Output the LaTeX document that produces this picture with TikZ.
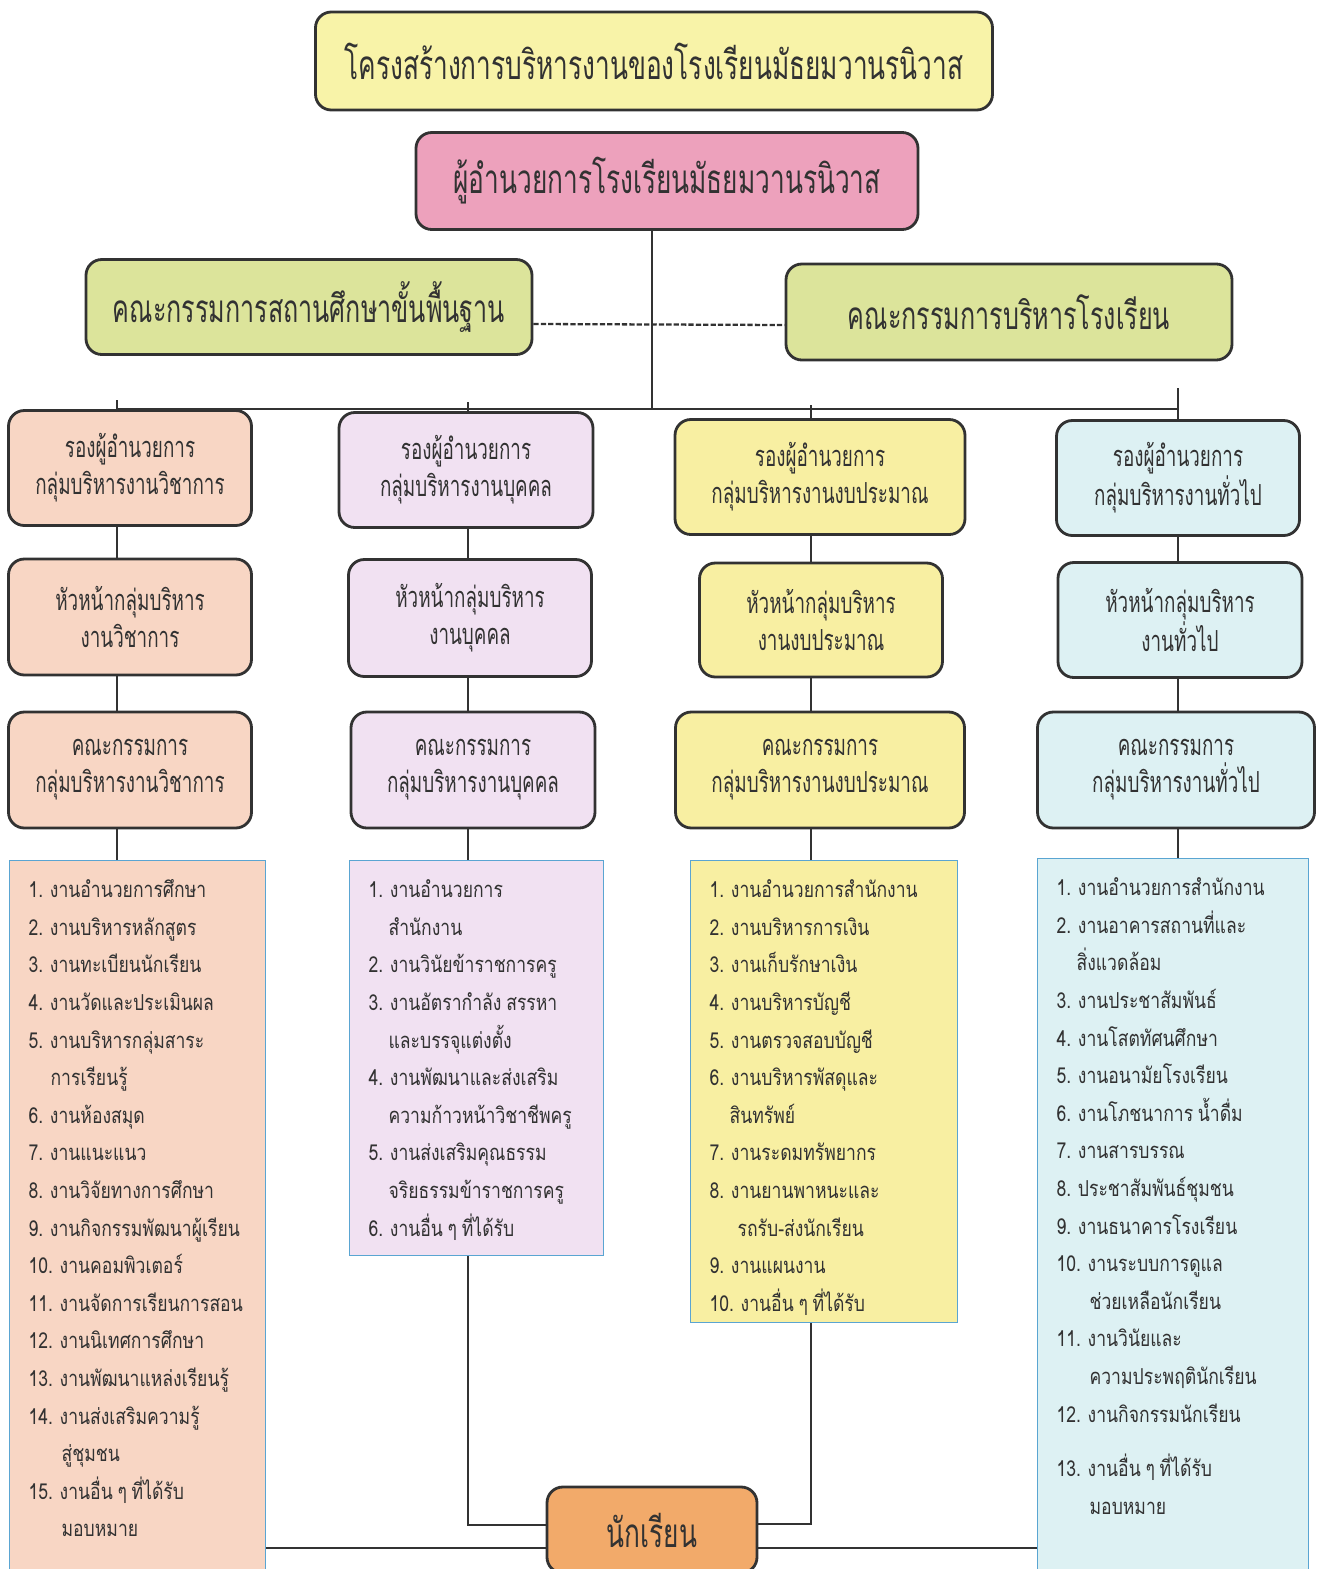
\documentclass[tikz,border=0pt]{standalone}
\usepackage{fontspec}
\setmainfont[Script=Thai]{Loma}
\newfontfamily\boxfont[Script=Thai,FakeStretch=0.65]{Loma}
\newfontfamily\itemfont[Script=Thai,FakeStretch=0.8,WordSpace=0.8]{Loma}
\usepackage{xcolor}
\usetikzlibrary{positioning,calc}
\definecolor{titleyellow}{RGB}{248,243,168}
\definecolor{dirpink}{RGB}{237,161,188}
\definecolor{boardgreen}{RGB}{220,228,155}
\definecolor{acadpeach}{RGB}{248,214,196}
\definecolor{perslilac}{RGB}{241,225,242}
\definecolor{budgyellow}{RGB}{248,239,162}
\definecolor{genblue}{RGB}{221,241,243}
\definecolor{studorange}{RGB}{242,170,106}
\definecolor{listedge}{RGB}{90,165,210}
\definecolor{inkgray}{RGB}{50,50,50}
\newcommand{\listtext}[4]{\parbox[c][#2][t]{#1}{\itemfont\fontsize{12.5pt}{21.4pt}\selectfont\raggedright\leftskip=#3\rule{0pt}{0.74cm}#4}}

\begin{document}
\begin{tikzpicture}[x=0.02cm, y=-0.02cm,
    rbox/.style 2 args={draw=inkgray, line width=1.6pt, rounded corners=9pt, align=center,
        text=inkgray, font=\boxfont\fontsize{16.5pt}{21pt}\selectfont,
        minimum width=#1*0.02cm, minimum height=#2*0.02cm, inner sep=0pt},
    listbox/.style={draw=listedge, line width=0.7pt, inner sep=0pt, anchor=north west, text=inkgray},
    link/.style={inkgray, line width=0.7pt}]
    \useasboundingbox (0,0) rectangle (1318,1569);

    % Top of the chart
    \node[rbox={677}{98}, fill=titleyellow, font=\boxfont\fontsize{23pt}{26pt}\selectfont] (title) at (654,61) {โครงสร้างการบริหารงานของโรงเรียนมัธยมวานรนิวาส};
    \node[rbox={502}{97}, fill=dirpink, font=\boxfont\fontsize{23pt}{26pt}\selectfont] (dir) at (667,181) {ผู้อำนวยการโรงเรียนมัธยมวานรนิวาส};
    \node[rbox={446}{95}, fill=boardgreen, font=\boxfont\fontsize{22pt}{26pt}\selectfont] (boardL) at (309,307) {คณะกรรมการสถานศึกษาขั้นพื้นฐาน};
    \node[rbox={446}{96}, fill=boardgreen, font=\boxfont\fontsize{22pt}{26pt}\selectfont] (boardR) at (1009,312) {คณะกรรมการบริหารโรงเรียน};

    % Where the four groups hang
    \coordinate (hub) at (652,409);
    \coordinate (t1) at (117,400);
    \coordinate (t2) at (468,402);
    \coordinate (t3) at (811,405);
    \coordinate (t4) at (1178,388);
    \coordinate (low) at (0,1548);

    % Academic group
    \node[rbox={243}{115}, fill=acadpeach] (a1) at (130,468) {รองผู้อำนวยการ\\กลุ่มบริหารงานวิชาการ};
    \node[rbox={243}{116}, fill=acadpeach] (b1) at (130,617) {หัวหน้ากลุ่มบริหาร\\งานวิชาการ};
    \node[rbox={243}{116}, fill=acadpeach] (c1) at (130,770) {คณะกรรมการ\\กลุ่มบริหารงานวิชาการ};
    \node[listbox, fill=acadpeach] (l1) at (9,860) {\listtext{5.12cm}{14.4cm}{0.38cm}{%
        1. งานอำนวยการศึกษา\\
        2. งานบริหารหลักสูตร\\
        3. งานทะเบียนนักเรียน\\
        4. งานวัดและประเมินผล\\
        5. งานบริหารกลุ่มสาระ\\
        \hspace*{0.44cm}การเรียนรู้\\
        6. งานห้องสมุด\\
        7. งานแนะแนว\\
        8. งานวิจัยทางการศึกษา\\
        9. งานกิจกรรมพัฒนาผู้เรียน\\
        10. งานคอมพิวเตอร์\\
        11. งานจัดการเรียนการสอน\\
        12. งานนิเทศการศึกษา\\
        13. งานพัฒนาแหล่งเรียนรู้\\
        14. งานส่งเสริมความรู้\\
        \hspace*{0.66cm}สู่ชุมชน\\
        15. งานอื่น ๆ ที่ได้รับ\\
        \hspace*{0.66cm}มอบหมาย}};

    % Personnel group
    \node[rbox={254}{115}, fill=perslilac] (a2) at (466,470) {รองผู้อำนวยการ\\กลุ่มบริหารงานบุคคล};
    \node[rbox={243}{117}, fill=perslilac] (b2) at (470,618) {หัวหน้ากลุ่มบริหาร\\งานบุคคล};
    \node[rbox={244}{116}, fill=perslilac] (c2) at (473,770) {คณะกรรมการ\\กลุ่มบริหารงานบุคคล};
    \node[listbox, fill=perslilac] (l2) at (349,860) {\listtext{5.08cm}{7.9cm}{0.38cm}{%
        1. งานอำนวยการ\\
        \hspace*{0.40cm}สำนักงาน\\
        2. งานวินัยข้าราชการครู\\
        3. งานอัตรากำลัง สรรหา\\
        \hspace*{0.40cm}และบรรจุแต่งตั้ง\\
        4. งานพัฒนาและส่งเสริม\\
        \hspace*{0.40cm}ความก้าวหน้าวิชาชีพครู\\
        5. งานส่งเสริมคุณธรรม\\
        \hspace*{0.40cm}จริยธรรมข้าราชการครู\\
        6. งานอื่น ๆ ที่ได้รับ}};

    % Budget group
    \node[rbox={290}{115}, fill=budgyellow] (a3) at (820,477) {รองผู้อำนวยการ\\กลุ่มบริหารงานงบประมาณ};
    \node[rbox={243}{114}, fill=budgyellow] (b3) at (821,620) {หัวหน้ากลุ่มบริหาร\\งานงบประมาณ};
    \node[rbox={289}{116}, fill=budgyellow] (c3) at (820,770) {คณะกรรมการ\\กลุ่มบริหารงานงบประมาณ};
    \node[listbox, fill=budgyellow] (l3) at (690,860) {\listtext{5.34cm}{9.24cm}{0.38cm}{%
        1. งานอำนวยการสำนักงาน\\
        2. งานบริหารการเงิน\\
        3. งานเก็บรักษาเงิน\\
        4. งานบริหารบัญชี\\
        5. งานตรวจสอบบัญชี\\
        6. งานบริหารพัสดุและ\\
        \hspace*{0.40cm}สินทรัพย์\\
        7. งานระดมทรัพยากร\\
        8. งานยานพาหนะและ\\
        \hspace*{0.56cm}รถรับ-ส่งนักเรียน\\
        9. งานแผนงาน\\
        10. งานอื่น ๆ ที่ได้รับ}};

    % General affairs group
    \node[rbox={243}{115}, fill=genblue] (a4) at (1178,478) {รองผู้อำนวยการ\\กลุ่มบริหารงานทั่วไป};
    \node[rbox={244}{115}, fill=genblue] (b4) at (1180,620) {หัวหน้ากลุ่มบริหาร\\งานทั่วไป};
    \node[rbox={277}{116}, fill=genblue] (c4) at (1176,770) {คณะกรรมการ\\กลุ่มบริหารงานทั่วไป};
    \node[listbox, fill=genblue] (l4) at (1037,858) {\listtext{5.42cm}{14.4cm}{0.38cm}{%
        1. งานอำนวยการสำนักงาน\\
        2. งานอาคารสถานที่และ\\
        \hspace*{0.40cm}สิ่งแวดล้อม\\
        3. งานประชาสัมพันธ์\\
        4. งานโสตทัศนศึกษา\\
        5. งานอนามัยโรงเรียน\\
        6. งานโภชนาการ น้ำดื่ม\\
        7. งานสารบรรณ\\
        8. ประชาสัมพันธ์ชุมชน\\
        9. งานธนาคารโรงเรียน\\
        10. งานระบบการดูแล\\
        \hspace*{0.66cm}ช่วยเหลือนักเรียน\\
        11. งานวินัยและ\\
        \hspace*{0.66cm}ความประพฤตินักเรียน\\
        12. งานกิจกรรมนักเรียน\\[0.34cm]
        13. งานอื่น ๆ ที่ได้รับ\\
        \hspace*{0.66cm}มอบหมาย}};

    % Students at the bottom
    \node[rbox={210}{86}, fill=studorange, font=\boxfont\fontsize{23pt}{26pt}\selectfont] (student) at (652,1530) {นักเรียน};

    % Connectors
    \draw[link] (dir.south -| hub) -- (hub);
    \draw[link, line width=1.4pt] (t1 |- hub) -- (t4 |- hub);
    \draw[link, line width=1.3pt, dash pattern=on 3pt off 1.2pt] ([yshift=-0.34cm]boardL.east) -- ([yshift=-0.26cm]boardR.west);
    \foreach \col in {1,2,3,4} {
        \draw[link] (t\col) -- (a\col.north -| t\col);
        \draw[link] (a\col.south -| t\col) -- (b\col.north -| t\col);
        \draw[link] (b\col.south -| t\col) -- (c\col.north -| t\col);
        \draw[link] (c\col.south -| t\col) -- (l\col.north -| t\col);
    }
    \draw[link] (l2.south -| t2) |- ([yshift=0.1cm]student.west);
    \draw[link] (l3.south -| t3) |- ([yshift=0.12cm]student.east);
    \draw[link] (l1.east |- low) -- (student.west |- low);
    \draw[link] (student.east |- low) -- (l4.west |- low);
\end{tikzpicture}
\end{document}
